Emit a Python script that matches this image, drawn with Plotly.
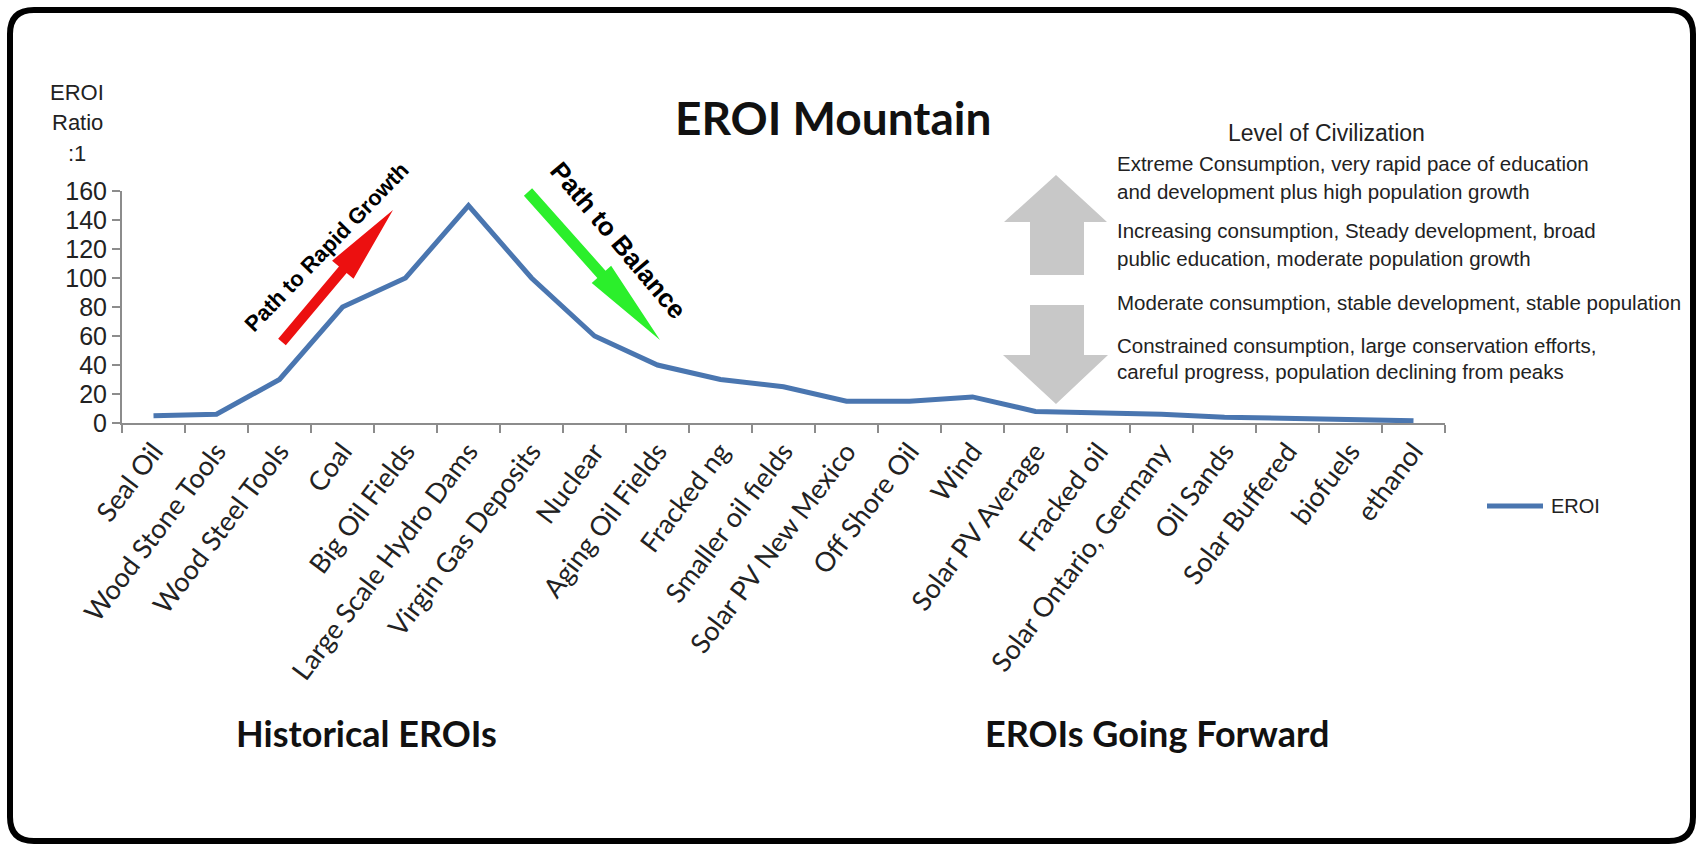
import plotly.graph_objects as go

# EROI values (ratio :1) by energy source
sources = [
    "Seal Oil", "Wood Stone Tools", "Wood Steel Tools", "Coal", "Big Oil Fields",
    "Large Scale Hydro Dams", "Virgin Gas Deposits", "Nuclear", "Aging Oil Fields",
    "Fracked ng", "Smaller oil fields", "Solar PV New Mexico", "Off Shore Oil", "Wind",
    "Solar PV Average", "Fracked oil", "Solar Ontario, Germany", "Oil Sands",
    "Solar Buffered", "biofuels", "ethanol",
]
eroi = [5, 6, 30, 80, 100, 150, 100, 60, 40, 30, 25, 15, 15, 18, 8, 7, 6, 4, 3, 2.5, 1.5]

y_ticks = [0, 20, 40, 60, 80, 100, 120, 140, 160]

civilization_levels = [
    "Extreme Consumption, very rapid pace of education",
    "and development plus high population growth",
    "Increasing consumption, Steady development, broad",
    "public education, moderate population growth",
    "Moderate consumption, stable development, stable population",
    "Constrained consumption, large conservation efforts,",
    "careful progress, population declining from peaks",
]

LINE_COLOR = "#4a76b0"
W, H = 1703, 846
# plot area in pixels
L, R, T, B = 122, 1445, 191, 423


def X(px):
    return (px - L) / (R - L)


def Y(py):
    return (B - py) / (B - T)


def poly(points):
    return "M" + " L".join(f"{X(x):.5f},{Y(y):.5f}" for x, y in points) + " Z"


def arrow(tail, tip, shaft_hw, head_hw, head_len):
    dx, dy = tip[0] - tail[0], tip[1] - tail[1]
    n = (dx * dx + dy * dy) ** 0.5
    ux, uy = dx / n, dy / n
    nx, ny = -uy, ux
    bx, by = tip[0] - ux * head_len, tip[1] - uy * head_len
    pts = [
        (tail[0] + nx * shaft_hw, tail[1] + ny * shaft_hw),
        (bx + nx * shaft_hw, by + ny * shaft_hw),
        (bx + nx * head_hw, by + ny * head_hw),
        tip,
        (bx - nx * head_hw, by - ny * head_hw),
        (bx - nx * shaft_hw, by - ny * shaft_hw),
        (tail[0] - nx * shaft_hw, tail[1] - ny * shaft_hw),
    ]
    return poly(pts)


def rounded_rect(x0, y0, x1, y1, r):
    return (
        f"M{X(x0 + r)},{Y(y0)} L{X(x1 - r)},{Y(y0)} Q{X(x1)},{Y(y0)} {X(x1)},{Y(y0 + r)} "
        f"L{X(x1)},{Y(y1 - r)} Q{X(x1)},{Y(y1)} {X(x1 - r)},{Y(y1)} "
        f"L{X(x0 + r)},{Y(y1)} Q{X(x0)},{Y(y1)} {X(x0)},{Y(y1 - r)} "
        f"L{X(x0)},{Y(y0 + r)} Q{X(x0)},{Y(y0)} {X(x0 + r)},{Y(y0)} Z"
    )


fig = go.Figure()
fig.add_trace(go.Scatter(
    x=sources, y=eroi, mode="lines", name="EROI",
    line=dict(color=LINE_COLOR, width=5), showlegend=False,
))

shapes = [
    dict(type="path", xref="paper", yref="paper", path=rounded_rect(10, 10, 1693, 841, 24),
         line=dict(color="black", width=6), fillcolor="rgba(0,0,0,0)", layer="above"),
    # growth / balance arrows
    dict(type="path", xref="paper", yref="paper",
         path=arrow((282, 342), (393, 210), 5, 14, 78),
         line=dict(width=0), fillcolor="#ec1010"),
    dict(type="path", xref="paper", yref="paper",
         path=arrow((528, 192), (660, 340), 5.5, 13, 88),
         line=dict(width=0), fillcolor="#2bef2b"),
    # civilization level arrows (up / down)
    dict(type="path", xref="paper", yref="paper",
         path=poly([(1056, 175), (1107, 222), (1084, 222), (1084, 275), (1030, 275), (1030, 222), (1004, 222)]),
         line=dict(width=0), fillcolor="#c8c8c8"),
    dict(type="path", xref="paper", yref="paper",
         path=poly([(1030, 305), (1084, 305), (1084, 355), (1108, 355), (1056, 404), (1003, 355), (1030, 355)]),
         line=dict(width=0), fillcolor="#c8c8c8"),
    # legend key
    dict(type="line", xref="paper", yref="paper", x0=X(1487), x1=X(1543), y0=Y(506), y1=Y(506),
         line=dict(color=LINE_COLOR, width=5)),
]

ann = []


def text(x, y, s, size, family="Liberation Sans, Arial", color="#222", bold=False,
         xanchor="center", angle=0):
    ann.append(dict(
        x=X(x), y=Y(y), xref="paper", yref="paper", text=f"<b>{s}</b>" if bold else s,
        showarrow=False, xanchor=xanchor, yanchor="middle", textangle=angle,
        font=dict(size=size, family=family, color=color),
    ))


text(77, 92, "EROI", 22)
text(77, 122, "Ratio", 22)
text(77, 153, ":1", 22)

text(833, 118, "EROI Mountain", 46, family="Lato", color="#111", bold=True)
text(366, 733, "Historical EROIs", 36, family="Lato", color="#111", bold=True)
text(1157, 733, "EROIs Going Forward", 36, family="Lato", color="#111", bold=True)

text(326, 247, "Path to Rapid Growth", 22, family="Liberation Sans, Arial", color="black", bold=True, angle=-46)
text(618, 240, "Path to Balance", 26, family="Liberation Sans, Arial", color="black", bold=True, angle=50)

text(1326, 133, "Level of Civilization", 23)
for s, yy in zip(civilization_levels, [163, 191, 230, 258, 302, 345, 371]):
    text(1115, yy, s, 20.5, xanchor="left")

text(1549, 506, "EROI", 20, xanchor="left")

fig.update_layout(
    width=W, height=H, autosize=False,
    margin=dict(l=L, r=W - R, t=T, b=H - B, pad=0),
    paper_bgcolor="white", plot_bgcolor="white",
    shapes=shapes, annotations=ann,
    xaxis=dict(
        type="category", range=[-0.5, len(sources) - 0.5],
        showline=True, linecolor="#8c8c8c", linewidth=2,
        ticks="outside", tickson="boundaries", ticklen=8, tickcolor="#8c8c8c", tickwidth=1.5,
        tickangle=-53, showgrid=False, zeroline=False,
        tickfont=dict(size=27, family="Lato", color="#222"),
    ),
    yaxis=dict(
        range=[0, 160], tickvals=y_ticks, ticksuffix="\u00a0",
        showline=True, linecolor="#8c8c8c", linewidth=2,
        ticks="outside", ticklen=8, tickcolor="#8c8c8c", tickwidth=1.5,
        showgrid=False, zeroline=False,
        tickfont=dict(size=25, family="Liberation Sans, Arial", color="#222"),
    ),
)

fig.write_html("out.html")
